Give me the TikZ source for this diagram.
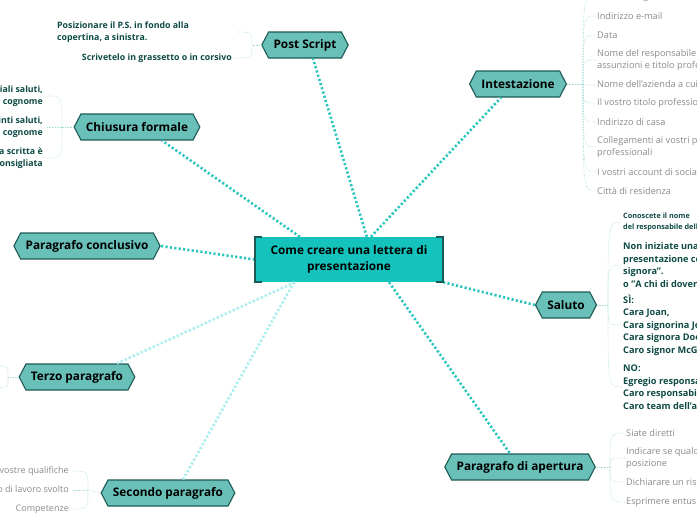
\documentclass[tikz,border=0pt]{standalone}
\usepackage{fontspec}
\setmainfont{Open Sans}
\usetikzlibrary{shapes.symbols,calc}
\definecolor{hexfill}{HTML}{68C0B8}
\definecolor{hexdark}{HTML}{1E5A55}
\definecolor{cfill}{HTML}{14C4BC}
\definecolor{conncol}{HTML}{2CC6BE}
\definecolor{connlcol}{HTML}{A8EEF0}
\definecolor{leafl}{HTML}{A6DCD8}
\definecolor{greyt}{HTML}{8A8A8A}
\definecolor{darkt}{HTML}{0E4A45}
\tikzset{
 topic/.style={signal, signal to=east and west, signal pointer angle=125, fill=hexfill, draw=hexdark, line width=1.1pt, font=\fontsize{11.8}{13}\selectfont\bfseries, inner xsep=5pt, minimum height=26pt, text=black},
 connd/.style={conncol, line width=2.6pt, dash pattern=on 2.2pt off 2.2pt},
 connlight/.style={connlcol, line width=2.6pt, dash pattern=on 2.2pt off 2.2pt},
 leafline/.style={leafl, line width=0.6pt, densely dotted},
 gleaf/.style={anchor=west, text=greyt, font=\fontsize{9.2}{12.5}\selectfont, align=left, inner sep=1pt},
 dleaf/.style={anchor=west, text=darkt, font=\fontsize{9.2}{12.5}\selectfont\bfseries, align=left, inner sep=1pt},
 sleaf/.style={anchor=west, text=darkt, font=\fontsize{7.3}{11.5}\selectfont\bfseries, align=left, inner sep=1pt},
 rleaf/.style={anchor=east, text=darkt, font=\fontsize{8.8}{12.5}\selectfont\bfseries, align=right, inner sep=1pt},
 rgleaf/.style={anchor=east, text=greyt, font=\fontsize{9}{12.5}\selectfont, align=right, inner sep=1pt},
}
\begin{document}
\begin{tikzpicture}[x=1pt,y=-1pt]
\useasboundingbox (0,0) rectangle (697,520);
\clip (0,0) rectangle (697,520);
% center
\node[fill=cfill, minimum width=188pt, minimum height=45pt, align=center, font=\fontsize{11.8}{15.5}\selectfont\bfseries] (c) at (349,259.5) {Come creare una lettera di\\presentazione};
% topics
\node[topic] (ps) at (305,45) {Post Script};
\node[topic] (int) at (518,84) {Intestazione};
\node[topic] (chf) at (137,127) {Chiusura formale};
\node[topic] (pc) at (87,246) {Paragrafo conclusivo};
\node[topic] (sal) at (566,305) {Saluto};
\node[topic] (tp) at (77,377) {Terzo paragrafo};
\node[topic] (pa) at (520,467) {Paragrafo di apertura};
\node[topic] (sp) at (168,493) {Secondo paragrafo};
% connectors
\draw[connd] ($(c.north west)+(112,0)$) -- ($(ps.south)+(8,0)$);
\draw[connd] ($(c.north)+(22,0)$) -- ($(int.south west)+(25,0)$);
\draw[connd] ($(c.north west)+(45,0)$) -- ($(chf.south)+(25,0)$);
\draw[connd] (c.west) -- (pc.east);
\draw[connd] (c.south east) -- (sal.west);
\draw[connlight] ($(c.south west)+(40,0)$) -- ($(tp.north)+(40,0)$);
\draw[connlight] ($(c.south)+(-55,0)$) -- ($(sp.north)+(15,0)$);
\draw[connd] ($(c.south)+(40,0)$) -- ($(pa.north)+(-10,0)$);
% center brackets
\draw[hexdark, line width=2.2pt] ($(c.north west)+(7,0)$) -- (c.north west) -- (c.south west) -- ++(7,0);
\draw[hexdark, line width=2.2pt] ($(c.north east)+(-7,0)$) -- (c.north east) -- (c.south east) -- ++(-7,0);
% Intestazione leaves
\coordinate (bi) at (583,84);
\draw[leafline] (int.east) -- (bi);
\node[gleaf] (i0) at (596,-3) {Nome e cognome};
\node[gleaf] (i1) at (596,16) {Indirizzo e-mail};
\node[gleaf] (i2) at (596,35) {Data};
\node[gleaf] (i3) at (596,60) {Nome del responsabile delle\\assunzioni e titolo professionale};
\node[gleaf] (i4) at (596,85) {Nome dell'azienda a cui vi rivolgete};
\node[gleaf] (i5) at (596,103) {Il vostro titolo professionale};
\node[gleaf] (i6) at (596,122) {Indirizzo di casa};
\node[gleaf] (i7) at (596,147) {Collegamenti ai vostri profili\\professionali};
\node[gleaf] (i8) at (596,172) {I vostri account di social media};
\node[gleaf] (i9) at (596,191) {Città di residenza};
\foreach \l in {i0,i1,i2,i3,i4,i5,i6,i7,i8,i9}
  \draw[leafline] (bi) .. controls (bi |- \l.west) .. (\l.west);
% Saluto leaves
\coordinate (bs) at (608,305);
\draw[leafline] (sal.east) -- (bs);
\node[sleaf] (s1) at (622,222) {Conoscete il nome\\del responsabile delle assunzioni?};
\node[dleaf] (s2) at (622,265) {Non iniziate una lettera di\\presentazione con "Egregio signore o\\signora".\\o "A chi di dovere"};
\node[dleaf] (s3) at (622,325) {SÌ:\\Cara Joan,\\Cara signorina Jones,\\Cara signora Doe,\\Caro signor McGregor,};
\node[dleaf] (s4) at (622,387) {NO:\\Egregio responsabile\\Caro responsabile delle assunzioni\\Caro team dell'azienda};
\foreach \l in {s1,s2,s3,s4}
  \draw[leafline] (bs) .. controls (bs |- \l.west) .. (\l.west);
% Apertura leaves
\coordinate (ba) at (610,467);
\draw[leafline] (pa.east) -- (ba);
\node[gleaf] (a1) at (625,433) {Siate diretti};
\node[gleaf] (a2) at (625,458) {Indicare se qualcuno vi ha segnalato la\\posizione};
\node[gleaf] (a3) at (625,482) {Dichiarare un risultato};
\node[gleaf] (a4) at (625,502) {Esprimere entusiasmo};
\foreach \l in {a1,a2,a3,a4}
  \draw[leafline] (ba) .. controls (ba |- \l.west) .. (\l.west);
% Post Script leaves
\coordinate (bp) at (252,45);
\draw[leafline] (ps.west) -- (bp);
\node[dleaf, font=\fontsize{8.8}{12.5}\selectfont\bfseries] (p1) at (56,32) {Posizionare il P.S. in fondo alla\\copertina, a sinistra.};
\node[rleaf] (p2) at (233,58) {Scrivetelo in grassetto o in corsivo};
\coordinate (p1e) at (237,32);
\draw[leafline] (bp) .. controls (bp |- p1e) .. (p1e);
\draw[leafline] (bp) .. controls (bp |- p2.east) .. (p2.east);
% Chiusura leaves
\coordinate (bc) at (62,127);
\draw[leafline] (chf.west) -- (bc);
\node[rleaf] (h1) at (44,96) {Cordiali saluti,\\Nome e cognome};
\node[rleaf] (h2) at (44,127) {Distinti saluti,\\Nome e cognome};
\node[rleaf] (h3) at (44,158) {La firma scritta è\\consigliata};
\foreach \l in {h1,h2,h3}
  \draw[leafline] (bc) .. controls (bc |- \l.east) .. ($(\l.east)+(3,0)$);
% Terzo leaves
\coordinate (bt) at (8,377);
\draw[leafline] (tp.west) -- (bt);
\draw[leafline] (bt) .. controls (8,366) .. (-2,366);
\draw[leafline] (bt) .. controls (8,388) .. (-2,388);
% Secondo leaves
\coordinate (bsp) at (88,490);
\draw[leafline] (sp.west) -- (bsp);
\node[rgleaf] (e1) at (70,471) {Le vostre qualifiche};
\node[rgleaf] (e2) at (70,490) {Tipo di lavoro svolto};
\node[rgleaf] (e3) at (70,509) {Competenze};
\foreach \l in {e1,e2,e3}
  \draw[leafline] (bsp) .. controls (bsp |- \l.east) .. ($(\l.east)+(3,0)$);
\end{tikzpicture}
\end{document}
